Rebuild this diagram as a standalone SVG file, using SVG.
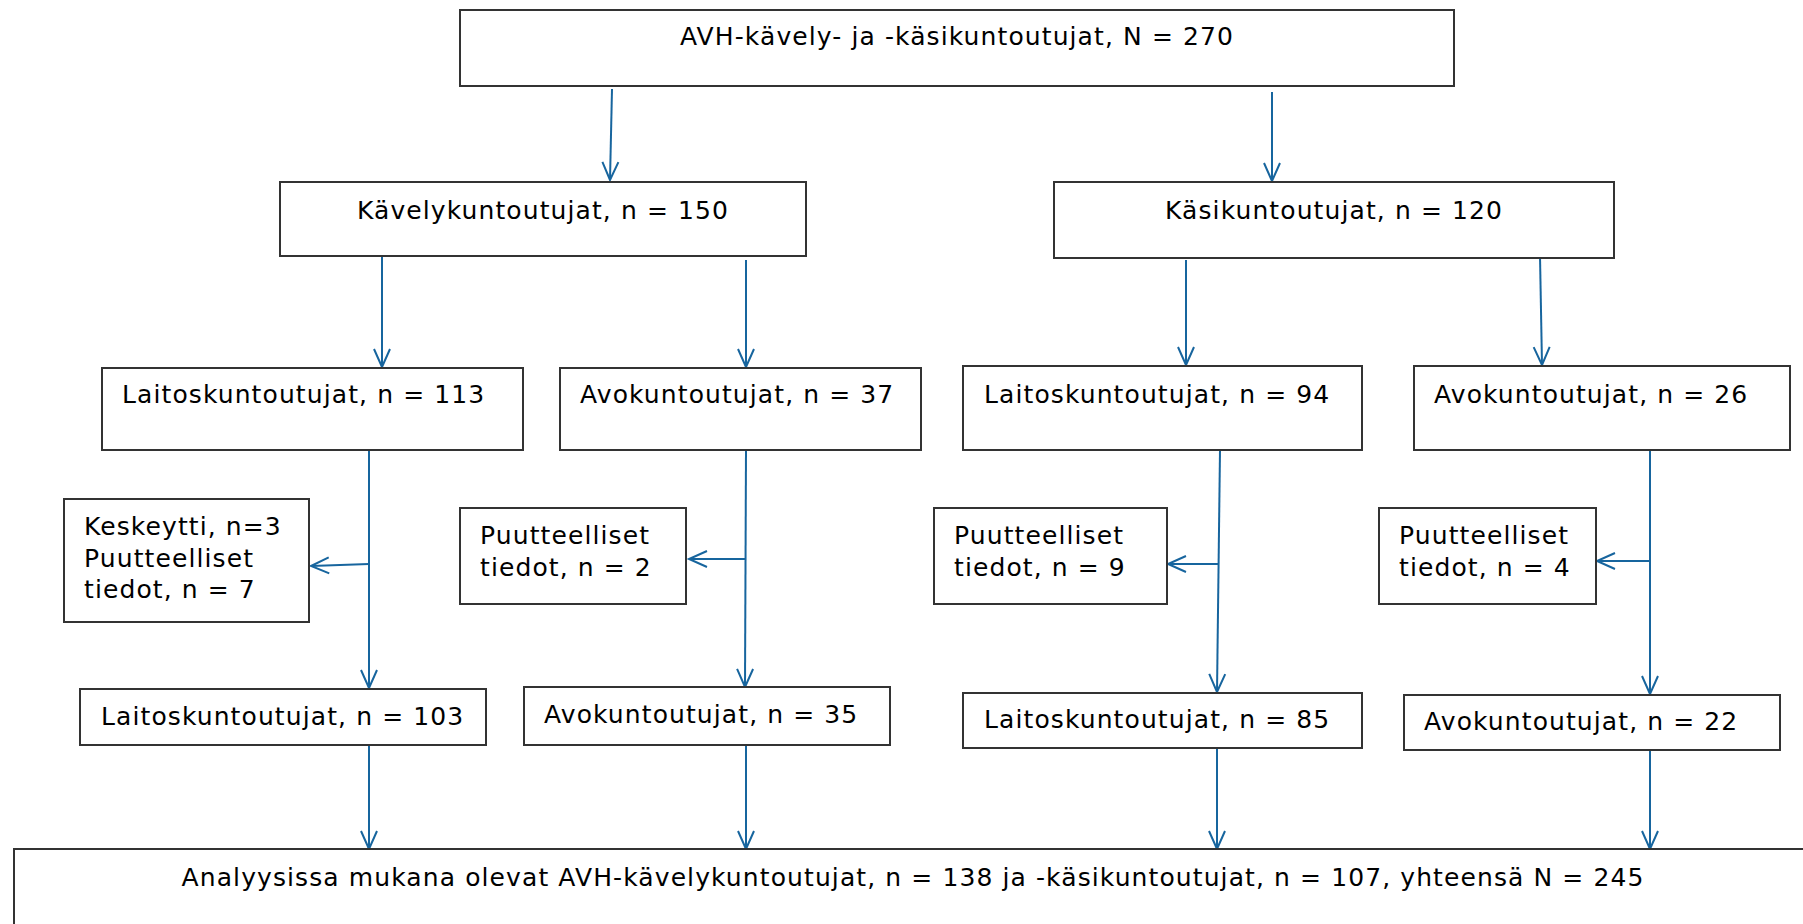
<svg xmlns="http://www.w3.org/2000/svg" width="1803" height="924" viewBox="0 0 1803 924">
<defs>
<marker id="ah" markerUnits="userSpaceOnUse" markerWidth="24" markerHeight="24" viewBox="-20 -12 24 24" refX="0" refY="0" orient="auto">
<path d="M-18,-8 L0,0 L-18,8" fill="none" stroke="#17659e" stroke-width="2"/>
</marker>
</defs>
<style>
.box{fill:#fff;stroke:#333;stroke-width:2}
.t{font-family:"DejaVu Sans",Verdana,sans-serif;font-size:25px;letter-spacing:1.1px;fill:#000}
.c{stroke:#17659e;stroke-width:2;fill:none;marker-end:url(#ah)}
</style>
<rect width="1803" height="924" fill="#fff"/>
<g id="connectors">
<path class="c" d="M612,89 L610,180"/>
<path class="c" d="M1272,92 L1272,181"/>
<path class="c" d="M382,256 L382,367"/>
<path class="c" d="M746,260 L746,367"/>
<path class="c" d="M1186,260 L1186,365"/>
<path class="c" d="M1540,256 L1542,365"/>
<path class="c" d="M369,450 L369,688"/>
<path class="c" d="M369,564 L311,566"/>
<path class="c" d="M746,450 L745,687"/>
<path class="c" d="M746,559 L689,559"/>
<path class="c" d="M1220,450 L1217,692"/>
<path class="c" d="M1218,564 L1168,564"/>
<path class="c" d="M1650,450 L1650,694"/>
<path class="c" d="M1650,561 L1597,561"/>
<path class="c" d="M369,745 L369,849"/>
<path class="c" d="M746,745 L746,849"/>
<path class="c" d="M1217,748 L1217,849"/>
<path class="c" d="M1650,750 L1650,849"/>
</g>
<g id="n-all"><rect class="box" x="460" y="10" width="994" height="76"/><text class="t" x="957" y="45" text-anchor="middle">AVH-kävely- ja -käsikuntoutujat, N = 270</text></g>
<g id="n-kavely"><rect class="box" x="280" y="182" width="526" height="74"/><text class="t" x="543" y="219" text-anchor="middle">Kävelykuntoutujat, n = 150</text></g>
<g id="n-kasi"><rect class="box" x="1054" y="182" width="560" height="76"/><text class="t" x="1334" y="219" text-anchor="middle">Käsikuntoutujat, n = 120</text></g>
<g id="n-laitos113"><rect class="box" x="102" y="368" width="421" height="82"/><text class="t" x="122" y="403">Laitoskuntoutujat, n = 113</text></g>
<g id="n-avo37"><rect class="box" x="560" y="368" width="361" height="82"/><text class="t" x="580" y="403">Avokuntoutujat, n = 37</text></g>
<g id="n-laitos94"><rect class="box" x="963" y="366" width="399" height="84"/><text class="t" x="984" y="403">Laitoskuntoutujat, n = 94</text></g>
<g id="n-avo26"><rect class="box" x="1414" y="366" width="376" height="84"/><text class="t" x="1434" y="403">Avokuntoutujat, n = 26</text></g>
<g id="n-kesk"><rect class="box" x="64" y="499" width="245" height="123"/><text class="t" x="84" y="535">Keskeytti, n=3</text><text class="t" x="84" y="567">Puutteelliset</text><text class="t" x="84" y="598">tiedot, n = 7</text></g>
<g id="n-puut2"><rect class="box" x="460" y="508" width="226" height="96"/><text class="t" x="480" y="544">Puutteelliset</text><text class="t" x="480" y="576">tiedot, n = 2</text></g>
<g id="n-puut9"><rect class="box" x="934" y="508" width="233" height="96"/><text class="t" x="954" y="544">Puutteelliset</text><text class="t" x="954" y="576">tiedot, n = 9</text></g>
<g id="n-puut4"><rect class="box" x="1379" y="508" width="217" height="96"/><text class="t" x="1399" y="544">Puutteelliset</text><text class="t" x="1399" y="576">tiedot, n = 4</text></g>
<g id="n-laitos103"><rect class="box" x="80" y="689" width="406" height="56"/><text class="t" x="101" y="725">Laitoskuntoutujat, n = 103</text></g>
<g id="n-avo35"><rect class="box" x="524" y="687" width="366" height="58"/><text class="t" x="544" y="723">Avokuntoutujat, n = 35</text></g>
<g id="n-laitos85"><rect class="box" x="963" y="693" width="399" height="55"/><text class="t" x="984" y="728">Laitoskuntoutujat, n = 85</text></g>
<g id="n-avo22"><rect class="box" x="1404" y="695" width="376" height="55"/><text class="t" x="1424" y="730">Avokuntoutujat, n = 22</text></g>
<g id="n-final"><rect class="box" x="14" y="849" width="1800" height="100"/><text class="t" x="913" y="886" text-anchor="middle">Analyysissa mukana olevat AVH-kävelykuntoutujat, n = 138 ja -käsikuntoutujat, n = 107, yhteensä N = 245</text></g>
</svg>
